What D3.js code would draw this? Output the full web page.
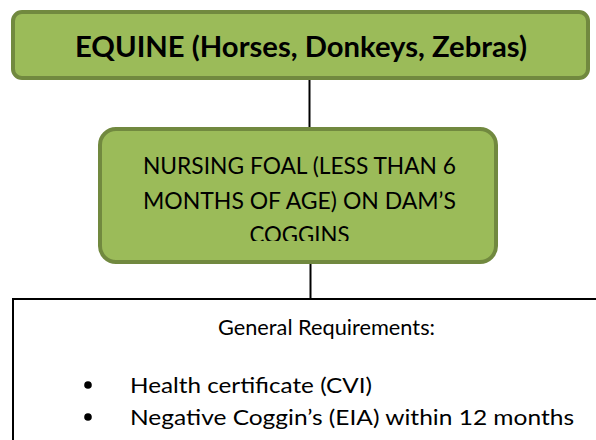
<!DOCTYPE html>
<html>
<head>
<meta charset="utf-8">
<script src="https://cdn.jsdelivr.net/npm/d3@7"></script>
<style>
  html, body { margin: 0; padding: 0; background: #fff; }
  svg { display: block; }
  text { font-family: Lato, "Open Sans", sans-serif; fill: #000; }
</style>
</head>
<body>
<div id="chart"></div>
<script>
// diagram content
var titleText = 'EQUINE (Horses, Donkeys, Zebras)';
var foalLines = ['NURSING FOAL (LESS THAN 6', 'MONTHS OF AGE) ON DAM\u2019S', 'COGGINS'];
var reqHeading = 'General Requirements:';
var reqItems = ['Health certificate (CVI)', 'Negative Coggin\u2019s (EIA) within 12 months'];

var width = 596, height = 440;
var green = '#9bbb59', greenDark = '#71893f';

var svg = d3.select('#chart')
  .append('svg')
  .attr('width', width)
  .attr('height', height);

// connectors
svg.append('line')
  .attr('x1', 309.5).attr('x2', 309.5)
  .attr('y1', 80).attr('y2', 128)
  .attr('stroke', '#000').attr('stroke-width', 2);

svg.append('line')
  .attr('x1', 310.5).attr('x2', 310.5)
  .attr('y1', 263).attr('y2', 299)
  .attr('stroke', '#000').attr('stroke-width', 2);

// top box
svg.append('rect')
  .attr('x', 13).attr('y', 12)
  .attr('width', 575).attr('height', 66)
  .attr('rx', 9)
  .attr('fill', green)
  .attr('stroke', greenDark)
  .attr('stroke-width', 4);

svg.append('text')
  .attr('x', 301).attr('y', 57)
  .attr('text-anchor', 'middle')
  .attr('font-size', 28)
  .attr('font-weight', 'bold')
  .attr('textLength', 452)
  .attr('lengthAdjust', 'spacingAndGlyphs')
  .text(titleText);

// middle box
svg.append('rect')
  .attr('x', 100).attr('y', 129)
  .attr('width', 396).attr('height', 133)
  .attr('rx', 16)
  .attr('fill', green)
  .attr('stroke', greenDark)
  .attr('stroke-width', 4);

// text overflows the box and is cut off, as in the source
svg.append('clipPath')
  .attr('id', 'foalClip')
  .append('rect')
  .attr('x', 100).attr('y', 129)
  .attr('width', 396).attr('height', 112);

var foalWidths = [313, 313, 100];
svg.append('g')
  .attr('clip-path', 'url(#foalClip)')
  .selectAll('text')
  .data(foalLines)
  .enter()
  .append('text')
  .attr('x', 299.5)
  .attr('y', (d, i) => 174 + i * 34.5)
  .attr('text-anchor', 'middle')
  .attr('font-size', 23)
  .attr('textLength', (d, i) => foalWidths[i])
  .attr('lengthAdjust', 'spacingAndGlyphs')
  .text(d => d);

// bottom box (runs off the page to the right and bottom)
svg.append('rect')
  .attr('x', 13).attr('y', 299)
  .attr('width', 700).attr('height', 300)
  .attr('fill', '#fff')
  .attr('stroke', '#000')
  .attr('stroke-width', 2);

svg.append('text')
  .attr('x', 326.5).attr('y', 335)
  .attr('text-anchor', 'middle')
  .attr('font-size', 22)
  .attr('textLength', 217)
  .attr('lengthAdjust', 'spacingAndGlyphs')
  .text(reqHeading);

var itemWidths = [242, 444];
var items = svg.selectAll('g.item')
  .data(reqItems)
  .enter()
  .append('g')
  .attr('class', 'item')
  .attr('transform', (d, i) => `translate(0,${393 + i * 32})`);

items.append('circle')
  .attr('cx', 88).attr('cy', -8)
  .attr('r', 3.8)
  .attr('fill', '#000');

items.append('text')
  .attr('x', 130).attr('y', 0)
  .attr('font-size', 22)
  .attr('textLength', (d, i) => itemWidths[i])
  .attr('lengthAdjust', 'spacingAndGlyphs')
  .text(d => d);
</script>
</body>
</html>
